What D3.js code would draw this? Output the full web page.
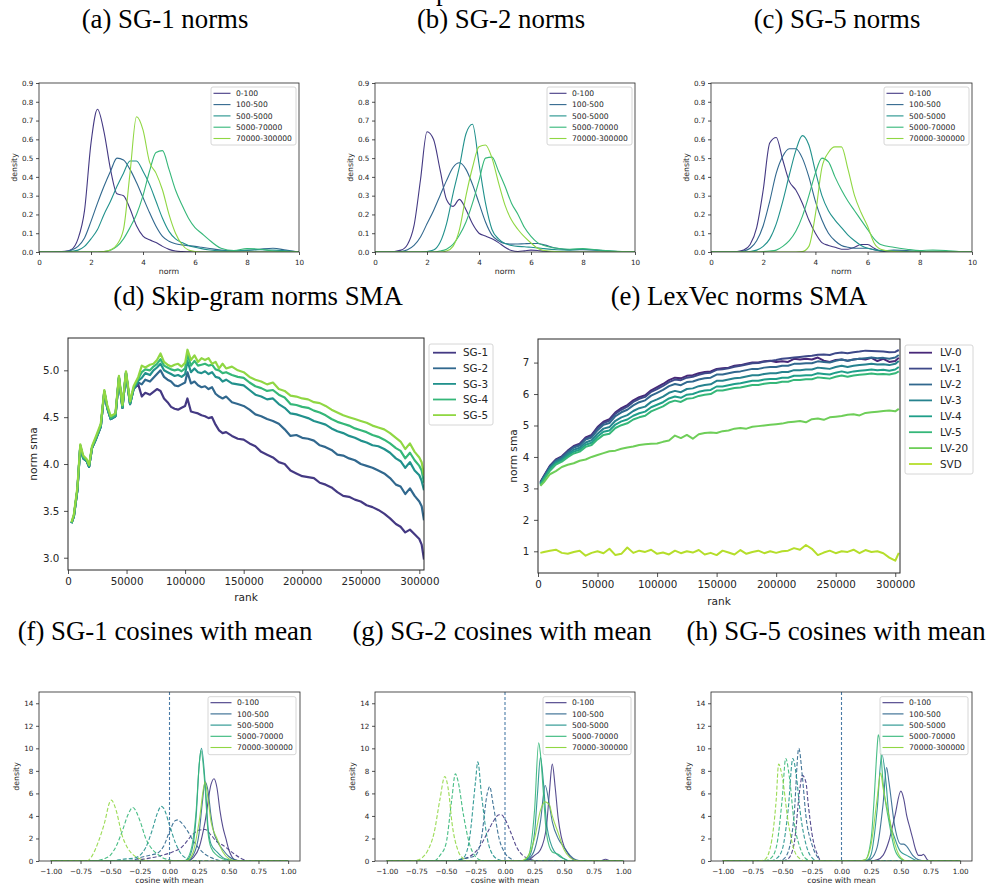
<!DOCTYPE html>
<html>
<head>
<meta charset="utf-8">
<script src="https://cdn.jsdelivr.net/npm/d3@7/dist/d3.min.js"></script>
<style>
  body { margin: 0; background: #fff; }
  text { font-family: "DejaVu Sans", sans-serif; fill: #262626; }
  text.caption { font-family: "Liberation Serif", "Times New Roman", serif; fill: #000; }
</style>
</head>
<body>
<div id="chart"></div>
<script>
// ---------------- data ----------------
var captions = ["(a) SG-1 norms", "(b) SG-2 norms", "(c) SG-5 norms",
  "(d) Skip-gram norms SMA", "(e) LexVec norms SMA",
  "(f) SG-1 cosines with mean", "(g) SG-2 cosines with mean", "(h) SG-5 cosines with mean"];

var bins = ["0-100", "100-500", "500-5000", "5000-70000", "70000-300000"];

// norm density panels (a, b, c): one row per frequency bin, sampled on normGrid
var normGrid = [0, 0.5, 1, 1.25, 1.5, 1.75, 2, 2.25, 2.5, 2.75, 3, 3.25, 3.5, 3.75, 4, 4.25, 4.5, 4.75, 5, 5.25, 5.5, 5.75, 6, 6.25, 6.5, 7, 7.5, 8, 8.5, 9, 9.5, 10];
var normTicks = [0, 2, 4, 6, 8, 10];
var normDensityTicks = [0, 0.1, 0.2, 0.3, 0.4, 0.5, 0.6, 0.7, 0.8, 0.9];

var sg1Norms = [
  [0,0,0.004,0.014,0.07,0.22,0.58,0.76,0.64,0.44,0.31,0.30,0.23,0.14,0.085,0.065,0.05,0.03,0.014,0.005,0.002,0.001,0,0,0,0,0,0,0,0,0,0],
  [0,0,0.002,0.01,0.03,0.075,0.163,0.26,0.35,0.43,0.50,0.49,0.44,0.37,0.29,0.21,0.137,0.083,0.057,0.044,0.038,0.034,0.03,0.025,0.02,0.01,0.006,0.008,0.015,0.02,0.01,0],
  [0,0,0,0.004,0.01,0.03,0.07,0.12,0.2,0.27,0.35,0.42,0.485,0.485,0.43,0.36,0.27,0.18,0.11,0.07,0.05,0.035,0.025,0.018,0.012,0.006,0.005,0.01,0.012,0.01,0.006,0],
  [0,0,0,0,0,0,0,0,0.002,0.01,0.03,0.07,0.13,0.2,0.3,0.43,0.53,0.54,0.44,0.33,0.25,0.18,0.13,0.1,0.07,0.02,0.008,0.018,0.015,0.005,0.002,0],
  [0,0,0,0,0,0,0,0,0.002,0.01,0.04,0.12,0.42,0.72,0.65,0.48,0.42,0.33,0.2,0.1,0.04,0.01,0.002,0,0,0,0,0,0,0,0,0]
];
var sg2Norms = [
  [0,0,0.01,0.04,0.14,0.385,0.64,0.6,0.44,0.28,0.243,0.28,0.225,0.15,0.1,0.085,0.07,0.05,0.025,0.008,0.003,0.006,0.01,0.008,0.004,0.001,0,0,0,0,0,0],
  [0,0,0.003,0.012,0.035,0.08,0.15,0.22,0.3,0.38,0.45,0.475,0.44,0.36,0.26,0.16,0.09,0.06,0.045,0.042,0.043,0.044,0.045,0.045,0.038,0.02,0.012,0.012,0.01,0.005,0.002,0],
  [0,0,0,0,0,0,0.002,0.01,0.05,0.15,0.31,0.456,0.63,0.68,0.47,0.26,0.12,0.07,0.045,0.035,0.03,0.028,0.025,0.022,0.018,0.012,0.01,0.015,0.01,0.005,0.002,0],
  [0,0,0,0,0,0,0,0,0.005,0.015,0.04,0.09,0.16,0.26,0.38,0.50,0.505,0.43,0.35,0.26,0.2,0.13,0.083,0.05,0.035,0.02,0.015,0.018,0.012,0.007,0.003,0],
  [0,0,0,0,0,0,0,0,0,0.005,0.03,0.12,0.3,0.45,0.56,0.57,0.5,0.37,0.25,0.17,0.12,0.08,0.048,0.02,0.008,0.002,0,0,0,0,0,0]
];
var sg5Norms = [
  [0,0,0.003,0.01,0.04,0.13,0.33,0.58,0.61,0.49,0.376,0.33,0.26,0.17,0.1,0.05,0.035,0.025,0.015,0.015,0.025,0.04,0.04,0.02,0.005,0,0,0,0,0,0,0],
  [0,0,0,0.005,0.02,0.06,0.14,0.27,0.42,0.51,0.55,0.55,0.5,0.4,0.27,0.17,0.1,0.06,0.035,0.025,0.02,0.02,0.02,0.012,0.006,0.01,0.008,0.003,0.001,0,0,0],
  [0,0,0,0,0.003,0.01,0.03,0.07,0.15,0.27,0.41,0.54,0.62,0.57,0.43,0.3,0.22,0.17,0.13,0.09,0.06,0.035,0.02,0.012,0.008,0.005,0.002,0,0,0,0,0],
  [0,0,0,0,0,0,0.002,0.005,0.01,0.03,0.06,0.11,0.19,0.3,0.42,0.5,0.48,0.4,0.33,0.27,0.22,0.17,0.12,0.07,0.04,0.025,0.015,0.008,0.01,0.008,0.003,0],
  [0,0,0,0,0,0,0,0,0,0,0,0,0.002,0.03,0.2,0.45,0.53,0.56,0.56,0.44,0.3,0.21,0.137,0.048,0.015,0.002,0,0,0,0,0,0]
];

// skip-gram norm SMA (d)
var sgNames = ["SG-1", "SG-2", "SG-3", "SG-4", "SG-5"];
var sgRanks = [3000,5000,8000,10500,13000,16000,18000,20500,24000,28000,31000,33500,36500,40500,43500,46500,49500,53000,56000,
  60000,63000,66000,70000,73000,76000,79000,82000,85000,88000,
  91000,94000,97000,100000,102000,105000,108000,111000,114000,117000,120000,
  123000,126000,129000,132000,135000,140000,145000,150000,
  155000,160000,165000,170000,175000,180000,185000,190000,195000,200000,205000,210000,215000,
  220000,225000,230000,235000,240000,245000,250000,255000,260000,265000,270000,275000,280000,
  284000,288000,292000,296000,300000,302000,304000];
var sg1Sma = [3.37,3.44,3.72,4.19,4.06,4.03,3.97,4.17,4.27,4.40,4.77,4.60,4.48,4.51,4.92,4.60,4.97,4.64,4.80,
  4.85,4.72,4.76,4.74,4.77,4.80,4.78,4.70,4.66,4.61,
  4.59,4.58,4.60,4.62,4.70,4.56,4.55,4.54,4.52,4.51,4.49,
  4.50,4.42,4.36,4.33,4.34,4.30,4.27,4.26,
  4.22,4.19,4.13,4.10,4.07,4.02,4.00,3.93,3.90,3.87,3.86,3.85,3.80,
  3.78,3.75,3.70,3.66,3.65,3.62,3.60,3.56,3.54,3.51,3.47,3.42,3.36,
  3.33,3.27,3.30,3.25,3.20,3.14,2.98];
var sg2Sma = [3.37,3.44,3.72,4.19,4.06,4.03,3.97,4.17,4.27,4.40,4.77,4.60,4.48,4.51,4.92,4.60,4.97,4.64,4.80,
  4.87,4.85,4.90,4.88,4.92,4.96,5.00,4.93,4.90,4.88,
  4.84,4.83,4.85,4.87,4.98,4.86,4.88,4.84,4.82,4.83,4.80,
  4.82,4.75,4.72,4.70,4.72,4.66,4.64,4.62,
  4.58,4.53,4.51,4.48,4.46,4.43,4.37,4.30,4.31,4.28,4.27,4.25,4.20,
  4.18,4.15,4.10,4.09,4.06,4.04,4.00,3.98,3.96,3.93,3.90,3.85,3.78,
  3.76,3.68,3.74,3.66,3.60,3.55,3.40];
var sg3Sma = [3.37,3.44,3.72,4.19,4.06,4.03,3.97,4.17,4.27,4.40,4.77,4.60,4.48,4.51,4.92,4.60,4.97,4.64,4.80,
  4.89,4.92,4.97,4.95,5.00,5.03,5.07,5.00,4.98,4.96,
  4.94,4.95,4.93,4.96,5.10,4.98,5.02,4.98,4.97,4.99,4.96,
  4.98,4.93,4.92,4.88,4.90,4.86,4.85,4.84,
  4.79,4.74,4.72,4.69,4.70,4.64,4.60,4.54,4.53,4.51,4.49,4.46,4.44,
  4.42,4.38,4.35,4.33,4.30,4.28,4.25,4.23,4.20,4.19,4.16,4.12,4.06,
  4.03,3.96,4.02,3.93,3.88,3.82,3.72];
var sg4Sma = [3.37,3.45,3.73,4.20,4.07,4.04,3.98,4.18,4.28,4.41,4.78,4.61,4.49,4.52,4.93,4.61,4.98,4.65,4.81,
  4.91,4.98,5.01,5.00,5.04,5.07,5.12,5.05,5.03,5.01,
  5.00,5.01,4.99,5.02,5.17,5.05,5.10,5.05,5.06,5.07,5.05,
  5.06,5.01,5.00,4.97,4.98,4.95,4.93,4.92,
  4.87,4.83,4.81,4.78,4.79,4.74,4.71,4.64,4.63,4.61,4.60,4.57,4.55,
  4.52,4.48,4.45,4.43,4.41,4.38,4.36,4.34,4.31,4.29,4.26,4.22,4.17,
  4.14,4.06,4.12,4.04,3.98,3.93,3.80];
var sg5Sma = [3.38,3.46,3.75,4.21,4.09,4.05,3.99,4.19,4.30,4.43,4.79,4.63,4.51,4.54,4.94,4.63,4.99,4.67,4.83,
  4.93,5.05,5.03,5.06,5.07,5.11,5.18,5.09,5.06,5.04,
  5.06,5.07,5.04,5.08,5.22,5.11,5.16,5.09,5.13,5.11,5.13,
  5.07,5.09,5.02,5.07,5.02,5.04,5.00,4.98,
  4.93,4.90,4.88,4.85,4.87,4.80,4.78,4.73,4.72,4.70,4.69,4.66,4.65,
  4.62,4.58,4.55,4.52,4.50,4.48,4.46,4.44,4.41,4.39,4.37,4.33,4.28,
  4.24,4.16,4.22,4.13,4.07,4.02,3.88];
var sgSmaTicks = [3.0, 3.5, 4.0, 4.5, 5.0];
var rankTicks = [0, 50000, 100000, 150000, 200000, 250000, 300000];

// LexVec norm SMA (e)
var lvNames = ["LV-0", "LV-1", "LV-2", "LV-3", "LV-4", "LV-5", "LV-20", "SVD"];
var lvRanks = [2000,5000,10000,15000,20000,25000,30000,35000,40000,45000,
  50000,55000,60000,65000,70000,75000,80000,85000,90000,95000,
  100000,105000,110000,115000,120000,125000,130000,135000,140000,145000,
  150000,155000,160000,165000,170000,175000,180000,185000,190000,195000,
  200000,205000,210000,215000,220000,225000,230000,235000,240000,245000,
  250000,255000,260000,265000,270000,275000,280000,285000,290000,295000,
  300000,303000];
var lv0Sma = [3.20,3.40,3.72,3.92,4.02,4.20,4.35,4.42,4.62,4.70,
  4.95,5.12,5.20,5.42,5.55,5.65,5.80,5.90,5.96,6.12,
  6.22,6.32,6.44,6.52,6.50,6.58,6.60,6.66,6.70,6.72,
  6.80,6.82,6.84,6.90,6.92,6.96,7.00,7.00,7.04,7.06,
  7.02,7.04,7.02,7.12,7.10,7.12,7.10,7.16,7.06,7.02,
  7.08,7.10,7.06,7.10,7.12,7.10,7.15,7.05,7.12,7.02,
  7.05,7.15];
var lv1Sma = [3.18,3.38,3.70,3.90,4.00,4.18,4.32,4.40,4.59,4.67,
  4.92,5.08,5.16,5.38,5.50,5.60,5.75,5.85,5.91,6.07,
  6.16,6.26,6.38,6.46,6.44,6.52,6.55,6.61,6.66,6.68,
  6.77,6.79,6.82,6.87,6.90,6.94,6.98,6.99,7.03,7.05,
  7.08,7.12,7.14,7.16,7.18,7.20,7.22,7.25,7.26,7.24,
  7.30,7.32,7.30,7.33,7.35,7.38,7.37,7.36,7.35,7.33,
  7.34,7.40];
var lv2Sma = [3.17,3.37,3.68,3.88,3.98,4.15,4.30,4.36,4.55,4.62,
  4.85,5.02,5.08,5.30,5.42,5.50,5.64,5.74,5.80,5.95,
  6.04,6.13,6.25,6.32,6.28,6.38,6.40,6.46,6.50,6.52,
  6.62,6.62,6.66,6.70,6.72,6.76,6.80,6.80,6.84,6.86,
  6.86,6.90,6.90,6.96,6.96,6.98,6.98,7.04,7.02,7.00,
  7.06,7.10,7.06,7.10,7.12,7.14,7.16,7.14,7.15,7.12,
  7.16,7.24];
var lv3Sma = [3.15,3.34,3.64,3.84,3.93,4.09,4.23,4.29,4.46,4.53,
  4.74,4.90,4.95,5.15,5.26,5.33,5.46,5.55,5.60,5.75,
  5.83,5.92,6.04,6.10,6.06,6.16,6.18,6.25,6.29,6.31,
  6.42,6.42,6.46,6.50,6.52,6.56,6.60,6.60,6.64,6.66,
  6.66,6.70,6.70,6.76,6.76,6.78,6.78,6.84,6.82,6.80,
  6.86,6.90,6.86,6.90,6.92,6.94,6.96,6.94,6.95,6.92,
  6.96,7.05];
var lv4Sma = [3.13,3.31,3.60,3.80,3.89,4.04,4.17,4.23,4.39,4.45,
  4.65,4.80,4.84,5.03,5.13,5.19,5.31,5.39,5.44,5.58,
  5.66,5.74,5.86,5.92,5.88,5.98,6.00,6.07,6.11,6.13,
  6.24,6.24,6.28,6.32,6.34,6.38,6.42,6.42,6.46,6.48,
  6.48,6.52,6.52,6.58,6.58,6.60,6.60,6.66,6.64,6.62,
  6.68,6.72,6.68,6.72,6.74,6.76,6.78,6.76,6.77,6.74,
  6.78,6.86];
var lv5Sma = [3.11,3.28,3.56,3.76,3.85,3.99,4.11,4.17,4.32,4.38,
  4.56,4.70,4.74,4.92,5.01,5.07,5.19,5.26,5.31,5.45,
  5.53,5.61,5.73,5.79,5.75,5.85,5.87,5.94,5.98,6.00,
  6.11,6.11,6.15,6.19,6.21,6.25,6.29,6.29,6.33,6.35,
  6.35,6.39,6.39,6.45,6.45,6.47,6.47,6.53,6.51,6.49,
  6.55,6.59,6.55,6.59,6.61,6.63,6.65,6.63,6.64,6.62,
  6.66,6.72];
var lv20Sma = [3.08,3.20,3.45,3.55,3.68,3.75,3.80,3.88,3.92,4.00,
  4.06,4.12,4.18,4.20,4.26,4.30,4.33,4.38,4.40,4.42,
  4.43,4.48,4.52,4.68,4.60,4.70,4.58,4.72,4.76,4.78,
  4.76,4.82,4.84,4.90,4.92,4.90,4.96,4.98,5.00,5.02,
  5.04,5.06,5.10,5.12,5.14,5.10,5.20,5.22,5.18,5.26,
  5.28,5.30,5.34,5.36,5.32,5.40,5.42,5.44,5.46,5.48,
  5.45,5.53];
var svdSma = [0.95,0.98,1.02,1.05,0.95,0.92,0.98,1.02,0.86,0.95,
  1.00,0.94,1.08,0.88,0.92,1.12,0.95,1.02,0.98,1.05,
  0.92,0.96,0.90,1.02,0.94,1.00,0.96,1.04,0.90,0.95,
  0.88,1.02,0.96,0.90,1.04,0.92,0.98,1.02,0.94,1.00,
  0.95,1.00,1.02,1.10,1.05,1.20,1.08,0.88,0.96,1.02,
  0.94,1.00,0.98,1.05,0.94,1.04,0.98,1.00,0.94,0.80,
  0.70,0.95];
var lvSmaTicks = [1, 2, 3, 4, 5, 6, 7];

// cosine-with-mean densities (f, g, h): [cosine, density] pairs per bin
var cosTicks = [-1, -0.75, -0.5, -0.25, 0, 0.25, 0.5, 0.75, 1];
var cosDensityTicks = [0, 2, 4, 6, 8, 10, 12, 14];

var sg1CosSolid = [
  [[-1,0],[0.15,0],[0.2,0.3],[0.25,1.2],[0.3,3.5],[0.35,6.8],[0.375,7.3],[0.4,6.5],[0.425,4.5],[0.45,3.0],[0.475,2.0],[0.5,1.0],[0.525,0.4],[0.55,0.1],[0.6,0],[1,0]],
  [[-1,0],[0.15,0],[0.2,0.5],[0.25,2.5],[0.275,5],[0.3,7.0],[0.325,6.2],[0.35,4.0],[0.375,2.5],[0.4,1.8],[0.45,1.0],[0.5,0.4],[0.55,0.1],[0.6,0],[1,0]],
  [[-1,0],[0.12,0],[0.15,0.1],[0.2,1.5],[0.225,4],[0.25,8.5],[0.27,10],[0.3,7],[0.325,3],[0.35,1.5],[0.4,0.8],[0.45,0.3],[0.5,0.1],[0.55,0],[1,0]],
  [[-1,0],[0.12,0],[0.15,0.2],[0.2,2],[0.225,4.5],[0.25,8.5],[0.265,9.8],[0.3,6.5],[0.325,2.5],[0.35,1.2],[0.4,0.5],[0.45,0.2],[0.5,0.05],[0.55,0],[1,0]],
  [[-1,0],[0.12,0],[0.15,0.05],[0.2,0.8],[0.25,3.5],[0.3,7],[0.325,5.5],[0.35,3.5],[0.4,2.0],[0.45,0.8],[0.5,0.2],[0.55,0.03],[0.6,0],[1,0]]
];
var sg1CosDashed = [
  [[-1,0],[-0.45,0],[-0.3,0.05],[-0.2,0.2],[-0.1,0.4],[0,0.7],[0.1,1.2],[0.2,2.4],[0.25,2.75],[0.3,2.8],[0.35,2.3],[0.4,1.7],[0.45,1.4],[0.5,1.0],[0.55,0.6],[0.6,0.25],[0.65,0.05],[0.7,0],[1,0]],
  [[-1,0],[-0.4,0],[-0.3,0.1],[-0.25,0.3],[-0.15,0.55],[-0.1,0.7],[-0.05,1.3],[0,2.6],[0.05,3.6],[0.07,3.65],[0.1,3.4],[0.15,2.7],[0.2,1.8],[0.25,1.1],[0.3,0.6],[0.35,0.3],[0.4,0.1],[0.45,0],[1,0]],
  [[-1,0],[-0.5,0],[-0.45,0.05],[-0.4,0.15],[-0.35,0.2],[-0.3,0.25],[-0.25,0.5],[-0.2,1.2],[-0.15,2.6],[-0.1,4.3],[-0.07,4.85],[-0.05,4.7],[0,3.2],[0.05,1.6],[0.1,0.6],[0.15,0.2],[0.2,0.05],[0.25,0],[1,0]],
  [[-1,0],[-0.65,0],[-0.6,0.05],[-0.55,0.2],[-0.5,0.5],[-0.45,1.3],[-0.4,2.6],[-0.35,4.1],[-0.31,4.75],[-0.25,3.6],[-0.2,2.0],[-0.15,1.1],[-0.1,0.6],[-0.05,0.25],[0,0.1],[0.05,0],[1,0]],
  [[-1,0],[-0.7,0],[-0.65,0.5],[-0.6,1.7],[-0.55,3.3],[-0.5,5.3],[-0.49,5.4],[-0.45,4.5],[-0.4,2.3],[-0.35,1.1],[-0.3,0.5],[-0.25,0.2],[-0.2,0.05],[-0.15,0],[1,0]]
];
var sg2CosSolid = [
  [[-1,0],[0.15,0],[0.2,0.1],[0.25,0.5],[0.3,1.0],[0.35,3.0],[0.375,6],[0.4,8.6],[0.425,6.5],[0.45,3.8],[0.475,2.2],[0.5,1.3],[0.525,0.8],[0.55,0.4],[0.6,0.05],[0.65,0],[0.8,0],[0.85,0.15],[0.9,0],[1,0]],
  [[-1,0],[0.15,0],[0.2,0.2],[0.25,1.0],[0.3,3.5],[0.34,6.7],[0.375,5.0],[0.4,3.5],[0.45,2.0],[0.5,1.2],[0.55,0.5],[0.6,0.1],[0.65,0],[1,0]],
  [[-1,0],[0.15,0],[0.2,0.3],[0.25,2.5],[0.275,6],[0.3,9.2],[0.325,7],[0.35,3.5],[0.4,1.2],[0.45,0.5],[0.5,0.2],[0.55,0],[1,0]],
  [[-1,0],[0.15,0],[0.2,0.5],[0.25,4.5],[0.285,10.5],[0.3,9.5],[0.325,6],[0.35,2.5],[0.4,0.8],[0.45,0.6],[0.5,0.2],[0.55,0],[1,0]],
  [[-1,0],[0.12,0],[0.15,0.05],[0.2,0.5],[0.25,2.0],[0.3,4.5],[0.34,5.25],[0.375,5.0],[0.4,4.0],[0.45,2.5],[0.5,1.0],[0.55,0.3],[0.6,0.05],[0.65,0],[1,0]]
];
var sg2CosDashed = [
  [[-1,0],[-0.45,0],[-0.35,0.2],[-0.3,0.4],[-0.25,0.8],[-0.2,1.5],[-0.15,2.5],[-0.1,3.5],[-0.05,4.1],[-0.03,4.1],[0,3.7],[0.05,2.5],[0.1,1.2],[0.15,0.5],[0.2,0.2],[0.25,0.05],[0.3,0],[1,0]],
  [[-1,0],[-0.45,0],[-0.35,0.2],[-0.3,0.3],[-0.25,0.5],[-0.2,2.0],[-0.15,6.0],[-0.13,6.6],[-0.1,5.0],[-0.05,2.0],[0,0.7],[0.05,0.2],[0.1,0],[1,0]],
  [[-1,0],[-0.45,0],[-0.4,0.1],[-0.35,0.3],[-0.3,2.0],[-0.25,7],[-0.23,8.8],[-0.2,6],[-0.15,2],[-0.1,0.5],[-0.05,0.1],[0,0],[1,0]],
  [[-1,0],[-0.6,0],[-0.55,0.5],[-0.5,1.5],[-0.45,5.5],[-0.42,7.75],[-0.4,7.2],[-0.35,4.0],[-0.3,1.5],[-0.25,0.4],[-0.2,0.05],[-0.15,0],[1,0]],
  [[-1,0],[-0.8,0],[-0.75,0.05],[-0.7,0.3],[-0.65,1.0],[-0.6,2.5],[-0.55,5.5],[-0.51,7.5],[-0.475,6.0],[-0.45,3.5],[-0.4,1.0],[-0.35,0.2],[-0.3,0],[1,0]]
];
var sg5CosSolid = [
  [[-1,0],[0.25,0],[0.3,0.1],[0.35,0.5],[0.4,1.8],[0.45,4.0],[0.5,6.2],[0.525,5.5],[0.55,4.0],[0.575,3.0],[0.6,2.0],[0.625,1.0],[0.65,0.5],[0.675,0.5],[0.69,0.6],[0.7,0.5],[0.725,0.1],[0.75,0],[1,0]],
  [[-1,0],[0.2,0],[0.25,0.2],[0.3,1.2],[0.35,5.0],[0.38,8.3],[0.4,7.0],[0.45,3.0],[0.5,1.5],[0.525,1.5],[0.55,1.3],[0.6,0.5],[0.65,0.1],[0.7,0],[1,0]],
  [[-1,0],[0.18,0],[0.22,0.1],[0.25,0.6],[0.3,4.5],[0.34,9.5],[0.375,7],[0.4,4],[0.45,2],[0.5,0.8],[0.55,0.5],[0.6,0.2],[0.65,0],[1,0]],
  [[-1,0],[0.15,0],[0.2,0.1],[0.25,2.0],[0.275,5.5],[0.3,10.0],[0.31,11.2],[0.325,10.5],[0.35,7],[0.4,3.5],[0.45,1.0],[0.5,0.2],[0.55,0],[1,0]],
  [[-1,0],[0.15,0],[0.2,0.1],[0.25,1.5],[0.3,5.5],[0.33,7.8],[0.35,6.5],[0.4,4.0],[0.45,1.5],[0.5,0.3],[0.55,0],[1,0]]
];
var sg5CosDashed = [
  [[-1,0],[-0.5,0],[-0.45,0.2],[-0.4,1.5],[-0.35,6.5],[-0.33,7.6],[-0.3,7.0],[-0.28,5.0],[-0.25,2.5],[-0.2,0.5],[-0.18,0.1],[-0.15,0],[1,0]],
  [[-1,0],[-0.55,0],[-0.5,0.1],[-0.45,0.8],[-0.4,4],[-0.36,10],[-0.33,7.5],[-0.3,4],[-0.25,1.5],[-0.2,0.3],[-0.18,0],[1,0]],
  [[-1,0],[-0.6,0],[-0.55,0.2],[-0.5,1.0],[-0.45,4.5],[-0.41,9.1],[-0.38,7.5],[-0.35,4.5],[-0.3,1.5],[-0.25,0.3],[-0.2,0],[1,0]],
  [[-1,0],[-0.65,0],[-0.6,0.2],[-0.55,1.2],[-0.5,5.5],[-0.47,9.1],[-0.44,7.5],[-0.4,3.5],[-0.35,1.2],[-0.3,0.2],[-0.25,0],[1,0]],
  [[-1,0],[-0.7,0],[-0.65,0.1],[-0.6,1.2],[-0.55,5.5],[-0.53,8.6],[-0.5,7.5],[-0.45,3.5],[-0.4,1.0],[-0.35,0.2],[-0.3,0],[1,0]]
];

// ---------------- drawing ----------------
var svg = d3.select("#chart").append("svg")
    .attr("width", 987)
    .attr("height", 885);
svg.append("rect").attr("width", 987).attr("height", 885).attr("fill", "#fff");

var fiveColors = [1, 2, 3, 4, 5].map(function(i) { return d3.interpolateViridis(i / 6); });
var eightColors = [1, 2, 3, 4, 5, 6, 7, 8].map(function(i) { return d3.interpolateViridis(i / 9); });

var clipId = 0;

// set up axes for one subplot, returns scales and a clipped group
function makePanel(box, xDomain, yDomain, xTicks, yTicks, xFmt, yFmt, o) {
  var x = d3.scaleLinear().domain(xDomain).range([box.l, box.r]);
  var y = d3.scaleLinear().domain(yDomain).range([box.b, box.t]);

  var xAxis = svg.append("g")
      .attr("transform", "translate(0," + box.b + ")")
      .call(d3.axisBottom(x).tickValues(xTicks).tickFormat(xFmt).tickSize(o.tick).tickPadding(o.xPad));
  var yAxis = svg.append("g")
      .attr("transform", "translate(" + box.l + ",0)")
      .call(d3.axisLeft(y).tickValues(yTicks).tickFormat(yFmt).tickSize(o.tick).tickPadding(o.yPad));
  [xAxis, yAxis].forEach(function(a) {
    a.attr("font-family", null).attr("font-size", null);
    a.select(".domain").remove();
    a.selectAll("line").attr("stroke", "#262626").attr("stroke-width", 0.8);
    a.selectAll("text").attr("fill", "#262626").style("font-size", o.tickFs + "px");
  });

  // axis titles
  svg.append("text")
      .attr("x", (box.l + box.r) / 2)
      .attr("y", o.xLabelY)
      .attr("text-anchor", "middle")
      .attr("dy", "0.35em")
      .style("font-size", o.labelFs + "px")
      .text(o.xLabel);
  svg.append("text")
      .attr("transform", "translate(" + o.yLabelX + "," + ((box.t + box.b) / 2) + ")rotate(-90)")
      .attr("text-anchor", "middle")
      .attr("dy", "0.35em")
      .style("font-size", o.labelFs + "px")
      .text(o.yLabel);

  var id = "clip" + (clipId++);
  svg.append("clipPath").attr("id", id)
    .append("rect")
      .attr("x", box.l).attr("y", box.t)
      .attr("width", box.r - box.l).attr("height", box.b - box.t);
  var plot = svg.append("g").attr("clip-path", "url(#" + id + ")");
  return { x: x, y: y, plot: plot, box: box };
}

function drawFrame(p, w) {
  svg.append("rect")
      .attr("x", p.box.l).attr("y", p.box.t)
      .attr("width", p.box.r - p.box.l).attr("height", p.box.b - p.box.t)
      .attr("fill", "none")
      .attr("stroke", "#262626")
      .attr("stroke-width", w);
}

function drawLegend(x0, y0, w, h, names, colors, o) {
  svg.append("rect")
      .attr("x", x0).attr("y", y0).attr("width", w).attr("height", h)
      .attr("rx", 2)
      .attr("fill", "#fff").attr("fill-opacity", 0.8)
      .attr("stroke", "#cccccc").attr("stroke-width", 0.8);
  names.forEach(function(n, i) {
    var yy = y0 + o.row0 + i * o.rowH;
    svg.append("line")
        .attr("x1", x0 + o.lineX).attr("x2", x0 + o.lineX + o.lineLen)
        .attr("y1", yy).attr("y2", yy)
        .attr("stroke", colors[i]).attr("stroke-width", o.lw);
    svg.append("text")
        .attr("x", x0 + o.textX).attr("y", yy)
        .attr("dy", "0.35em")
        .style("font-size", o.fs + "px")
        .text(n);
  });
}

// captions
var captionPos = [[165, 28], [501, 28], [837, 28], [258, 305], [739, 305], [165, 640], [502, 640], [836, 640]];
captions.forEach(function(c, i) {
  svg.append("text").attr("class", "caption")
      .attr("x", captionPos[i][0]).attr("y", captionPos[i][1])
      .attr("text-anchor", "middle")
      .style("font-size", "26.8px")
      .text(c);
});
// bottom of a cut-off line above the first captions
svg.append("text").attr("class", "caption")
    .attr("x", 436).attr("y", 0)
    .style("font-size", "26.8px")
    .text("p");

var fmt1 = d3.format(".1f"), fmt2 = d3.format(".2f"), fmtInt = d3.format("d");

// ----- top row: norm densities -----
var smallOpts = { tick: 3, xPad: 4.5, yPad: 2.7, tickFs: 7.2, labelFs: 7.8 };
var topBoxes = [{ l: 39, r: 299 }, { l: 375, r: 635 }, { l: 711, r: 972 }];
var topYLabelX = [14, 350, 686];
[sg1Norms, sg2Norms, sg5Norms].forEach(function(rows, k) {
  var box = { l: topBoxes[k].l, r: topBoxes[k].r, t: 83, b: 252 };
  var p = makePanel(box, [0, 10], [0, 0.9], normTicks, normDensityTicks, fmtInt, fmt1,
    Object.assign({ xLabel: "norm", yLabel: "density", xLabelY: 271.7, yLabelX: topYLabelX[k] }, smallOpts));
  var line = d3.line()
      .x(function(d, i) { return p.x(normGrid[i]); })
      .y(function(d) { return p.y(d); })
      .curve(d3.curveMonotoneX);
  rows.forEach(function(r, i) {
    p.plot.append("path").datum(r)
        .attr("d", line)
        .attr("fill", "none")
        .attr("stroke", fiveColors[i])
        .attr("stroke-width", 1.1);
  });
  drawFrame(p, 0.8);
  drawLegend(box.r - 88, box.t + 4, 85, 58, bins, fiveColors,
    { row0: 6.3, rowH: 11.3, lineX: 2.5, lineLen: 17, textX: 25, fs: 7.6, lw: 1.1 });
});

// ----- middle left: skip-gram SMA -----
var midOpts = { tick: 4, xPad: 4, yPad: 4.7, tickFs: 10.3, labelFs: 10.6 };
var pd = makePanel({ l: 68, r: 424, t: 338, b: 570 }, [0, 304000], [2.869, 5.345], rankTicks, sgSmaTicks, fmtInt, fmt1,
  Object.assign({ xLabel: "rank", yLabel: "norm sma", xLabelY: 597, yLabelX: 33 }, midOpts));
var sgLine = d3.line()
    .x(function(d, i) { return pd.x(sgRanks[i]); })
    .y(function(d) { return pd.y(d); });
[sg1Sma, sg2Sma, sg3Sma, sg4Sma, sg5Sma].forEach(function(s, i) {
  pd.plot.append("path").datum(s)
      .attr("d", sgLine)
      .attr("fill", "none")
      .attr("stroke", fiveColors[i])
      .attr("stroke-width", 2.2)
      .attr("stroke-linejoin", "round");
});
drawFrame(pd, 1);
drawLegend(429, 344, 64, 81, sgNames, fiveColors,
  { row0: 8.7, rowH: 15.6, lineX: 4, lineLen: 23, textX: 34, fs: 10.4, lw: 1.8 });

// ----- middle right: LexVec SMA -----
var pe = makePanel({ l: 538, r: 900, t: 339, b: 573 }, [0, 304000], [0.31, 7.75], rankTicks, lvSmaTicks, fmtInt, fmtInt,
  Object.assign({ xLabel: "rank", yLabel: "norm sma", xLabelY: 601, yLabelX: 513 }, midOpts));
var lvLine = d3.line()
    .x(function(d, i) { return pe.x(lvRanks[i]); })
    .y(function(d) { return pe.y(d); });
[lv0Sma, lv1Sma, lv2Sma, lv3Sma, lv4Sma, lv5Sma, lv20Sma, svdSma].forEach(function(s, i) {
  pe.plot.append("path").datum(s)
      .attr("d", lvLine)
      .attr("fill", "none")
      .attr("stroke", eightColors[i])
      .attr("stroke-width", 2)
      .attr("stroke-linejoin", "round");
});
drawFrame(pe, 1);
drawLegend(905, 345, 68, 129, lvNames, eightColors,
  { row0: 7.7, rowH: 15.9, lineX: 4, lineLen: 23, textX: 35, fs: 10.4, lw: 1.8 });

// ----- bottom row: cosine with mean -----
var botBoxes = [{ l: 39, r: 300 }, { l: 375, r: 635 }, { l: 711, r: 972 }];
var botYLabelX = [16, 352, 688];
[[sg1CosSolid, sg1CosDashed], [sg2CosSolid, sg2CosDashed], [sg5CosSolid, sg5CosDashed]].forEach(function(pair, k) {
  var box = { l: botBoxes[k].l, r: botBoxes[k].r, t: 692, b: 861 };
  var p = makePanel(box, [-1.1, 1.1], [0, 15], cosTicks, cosDensityTicks, fmt2, fmtInt,
    Object.assign({ xLabel: "cosine with mean", yLabel: "density", xLabelY: 880.7, yLabelX: botYLabelX[k] }, smallOpts));
  var line = d3.line()
      .x(function(d) { return p.x(d[0]); })
      .y(function(d) { return p.y(d[1]); })
      .curve(d3.curveMonotoneX);
  bins.forEach(function(b, i) {
    p.plot.append("path").datum(pair[0][i])
        .attr("d", line)
        .attr("fill", "none")
        .attr("stroke", fiveColors[i])
        .attr("stroke-opacity", 0.9)
        .attr("stroke-width", 1.1);
    p.plot.append("path").datum(pair[1][i])
        .attr("d", line)
        .attr("fill", "none")
        .attr("stroke", fiveColors[i])
        .attr("stroke-opacity", 0.9)
        .attr("stroke-width", 1.1)
        .attr("stroke-dasharray", "4,2");
  });
  // zero reference
  p.plot.append("line")
      .attr("x1", p.x(0)).attr("x2", p.x(0))
      .attr("y1", box.t).attr("y2", box.b)
      .attr("stroke", "#4a7ba6")
      .attr("stroke-width", 1.1)
      .attr("stroke-dasharray", "3,2");
  drawFrame(p, 0.8);
  drawLegend(box.r - 92, box.t + 4.7, 88, 58, bins, fiveColors,
    { row0: 6, rowH: 11.2, lineX: 2.5, lineLen: 21, textX: 29, fs: 7.6, lw: 1.1 });
});
</script>
</body>
</html>
